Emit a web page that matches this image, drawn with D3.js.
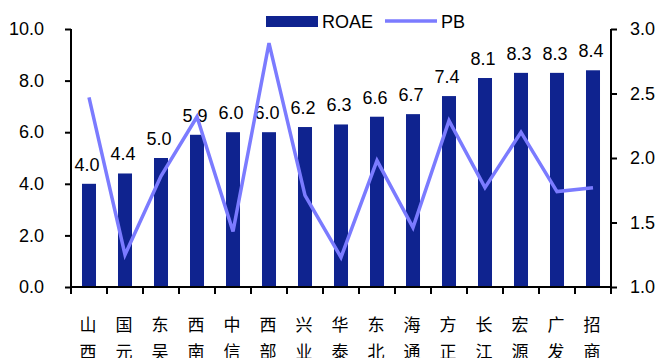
<!DOCTYPE html>
<html><head><meta charset="utf-8">
<script src="https://cdn.jsdelivr.net/npm/d3@7"></script>
<style>body{margin:0;background:#fff}svg{display:block}</style>
</head><body>
<script>
const categories = ["山西","国元","东吴","西南","中信","西部","兴业","华泰","东北","海通","方正","长江","宏源","广发","招商"];
const roae = [4.0,4.4,5.0,5.9,6.0,6.0,6.2,6.3,6.6,6.7,7.4,8.1,8.3,8.3,8.4];
const pb = [2.47,1.25,1.86,2.32,1.43,2.89,1.71,1.23,1.98,1.46,2.29,1.77,2.20,1.74,1.77];
const leftTicks = [0,2,4,6,8,10];
const rightTicks = [1.0,1.5,2.0,2.5,3.0];
const seriesNames = ["ROAE","PB"];

const W=658,H=358;
const svg=d3.select("body").append("svg").attr("width",W).attr("height",H);
const x=d3.scaleBand().domain(categories).range([71,611]).paddingInner(0.611).paddingOuter(0.3055);
const yL=d3.scaleLinear().domain([0,10]).range([287,29]);
const yR=d3.scaleLinear().domain([1,3]).range([287,29]);
const latin="Arial, 'Liberation Sans', sans-serif";
const barColor="#0f238f", lineColor="#7b7bff";

// bars
svg.selectAll("rect.bar").data(roae).join("rect").attr("class","bar")
  .attr("x",(d,i)=>x(categories[i])).attr("width",x.bandwidth())
  .attr("y",d=>yL(d)).attr("height",d=>yL(0)-yL(d)).attr("fill",barColor);
// value labels
svg.selectAll("text.val").data(roae).join("text").attr("class","val")
  .attr("x",(d,i)=>x(categories[i])+x.bandwidth()/2-2).attr("y",d=>yL(d)-13)
  .attr("text-anchor","middle").attr("font-family",latin).attr("font-size",18).attr("fill","#000")
  .text(d=>d.toFixed(1));
// line
const line=d3.line().x((d,i)=>x(categories[i])+x.bandwidth()/2).y(d=>yR(d));
svg.append("path").datum(pb).attr("d",line).attr("fill","none").attr("stroke",lineColor).attr("stroke-width",3.5).attr("stroke-linejoin","miter");

// left axis
const gl=svg.append("g").attr("transform","translate(71,0)")
  .call(d3.axisLeft(yL).tickValues(leftTicks).tickSize(6).tickPadding(21).tickFormat(d3.format(".1f")));
// right axis
const gr=svg.append("g").attr("transform","translate(611,0)")
  .call(d3.axisRight(yR).tickValues(rightTicks).tickSize(6).tickPadding(13).tickFormat(d3.format(".1f")));
[gl,gr].forEach(g=>{
  g.select(".domain").attr("stroke","#000").attr("stroke-width",2).attr("d",g===gl?"M0,287V29":"M0,287V29");
  g.selectAll(".tick line").attr("stroke","#000").attr("stroke-width",2);
  g.selectAll("text").attr("font-family",latin).attr("font-size",18).attr("fill","#000");
});
// x axis with ticks at band boundaries
const bounds=categories.map(c=>x(c)-x.step()*0.3055).concat([611]);
svg.append("line").attr("x1",71).attr("x2",611).attr("y1",287).attr("y2",287).attr("stroke","#000").attr("stroke-width",2);
svg.selectAll("line.xt").data(bounds).join("line").attr("class","xt")
  .attr("x1",d=>d).attr("x2",d=>d).attr("y1",287).attr("y2",294).attr("stroke","#000").attr("stroke-width",2);
// category labels (vertical, two chars)
const cl=svg.selectAll("text.cat").data(categories).join("text").attr("class","cat")
  .attr("font-family","'Noto Sans CJK SC', sans-serif").attr("font-size",17).attr("fill","#000").attr("text-anchor","middle");
cl.each(function(c){
  const t=d3.select(this), cx=x(c)+x.bandwidth()/2-1;
  c.split("").forEach((ch,k)=>t.append("tspan").attr("x",cx).attr("y",331+k*27).text(ch));
});

// legend
svg.append("rect").attr("x",266).attr("y",16).attr("width",52).attr("height",11).attr("fill",barColor);
svg.append("text").attr("x",322).attr("y",28).attr("font-family",latin).attr("font-size",18).text(seriesNames[0]);
svg.append("line").attr("x1",385).attr("x2",437).attr("y1",21).attr("y2",21).attr("stroke",lineColor).attr("stroke-width",3.5);
svg.append("text").attr("x",441).attr("y",28).attr("font-family",latin).attr("font-size",18).text(seriesNames[1]);
</script>
</body></html>
